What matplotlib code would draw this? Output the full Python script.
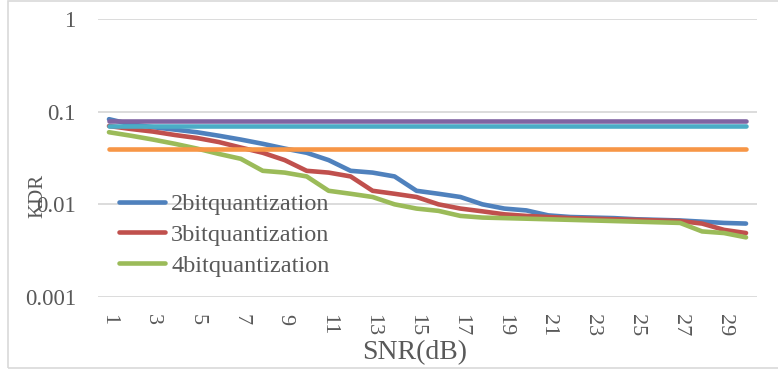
import numpy as np
import matplotlib
matplotlib.use('Agg')
import matplotlib.pyplot as plt
from matplotlib.patches import Rectangle

# SNR categories 1..30
snr = list(range(1, 31))
tick_labels = [str(s) for s in range(1, 31, 2)]

kdr_2bit = [0.083, 0.073, 0.068, 0.064, 0.060, 0.055, 0.050, 0.045, 0.040, 0.036,
            0.030, 0.023, 0.022, 0.020, 0.014, 0.013, 0.012, 0.010, 0.0090, 0.0086,
            0.0076, 0.0073, 0.0072, 0.0071, 0.0069, 0.0068, 0.0067, 0.0065, 0.0063, 0.0062]
kdr_3bit = [0.070, 0.065, 0.061, 0.056, 0.052, 0.047, 0.041, 0.036, 0.030, 0.023,
            0.022, 0.020, 0.014, 0.013, 0.012, 0.010, 0.0090, 0.0084, 0.0078, 0.0075,
            0.0073, 0.0071, 0.0070, 0.0069, 0.0068, 0.0067, 0.0066, 0.0062, 0.0053, 0.0049]
kdr_4bit = [0.060, 0.055, 0.050, 0.045, 0.040, 0.035, 0.031, 0.023, 0.022, 0.020,
            0.014, 0.013, 0.012, 0.010, 0.0090, 0.0085, 0.0075, 0.0072, 0.0071, 0.0070,
            0.0069, 0.0068, 0.0067, 0.0066, 0.0065, 0.0064, 0.0063, 0.0051, 0.0049, 0.0044]
# flat reference series (not in legend)
ref_purple = [0.08] * 30
ref_aqua = [0.07] * 30
ref_orange = [0.04] * 30

txt = '#595959'
plt.rcParams['font.family'] = ['Liberation Serif', 'DejaVu Serif']

fig = plt.figure(figsize=(7.78, 3.70), dpi=100)
ax = fig.add_axes([98/778, 73/370, 659/778, 278/370])

lw = 3.3
ax.plot(snr, kdr_2bit, color='#4F81BD', lw=lw, solid_capstyle='round', label='2bitquantization')
ax.plot(snr, kdr_3bit, color='#C0504D', lw=lw, solid_capstyle='round', label='3bitquantization')
ax.plot(snr, kdr_4bit, color='#9BBB59', lw=lw, solid_capstyle='round', label='4bitquantization')
ax.plot(snr, ref_purple, color='#8064A2', lw=lw, solid_capstyle='round')
ax.plot(snr, ref_aqua, color='#4BACC6', lw=lw, solid_capstyle='round')
ax.plot(snr, ref_orange, color='#F79646', lw=lw, solid_capstyle='round')

ax.set_yscale('log')
ax.set_ylim(0.001, 1)
ax.set_xlim(0.5, 30.5)
ax.set_yticks([0.001, 0.01, 0.1, 1])
ax.set_yticklabels(['0.001', '0.01', '0.1', '1'])
ax.yaxis.set_minor_locator(matplotlib.ticker.NullLocator())
ax.set_xticks(range(1, 31, 2))
ax.set_xticklabels(tick_labels, rotation=-90)
ax.tick_params(axis='y', length=0, pad=16, labelsize=16.5, labelcolor=txt)
ax.tick_params(axis='x', length=0, pad=12, labelsize=16, labelcolor=txt)
for s in ax.spines.values():
    s.set_visible(False)
ax.grid(axis='y', color='#d9d9d9', lw=1.3)
ax.set_axisbelow(True)

ax.legend(loc='upper left', bbox_to_anchor=(119/778, 1 - 193/370), bbox_transform=fig.transFigure,
          frameon=False, fontsize=17.5, handlelength=1.9, handletextpad=0.25,
          labelspacing=0.36, borderpad=0, borderaxespad=0, labelcolor=txt)

fig.text(38/778, 1 - 196/370, 'KDR', rotation=90, ha='center', va='center', fontsize=15, color=txt)
fig.text(415/778, 1 - 353/370, 'SNR(dB)', ha='center', va='center', fontsize=20, color=txt)

fig.patches.append(Rectangle((8/778, 2/370), 1.0, 367/370, transform=fig.transFigure,
                             fill=False, edgecolor='#d9d9d9', lw=1.2))

fig.savefig('out.png', dpi=100)
